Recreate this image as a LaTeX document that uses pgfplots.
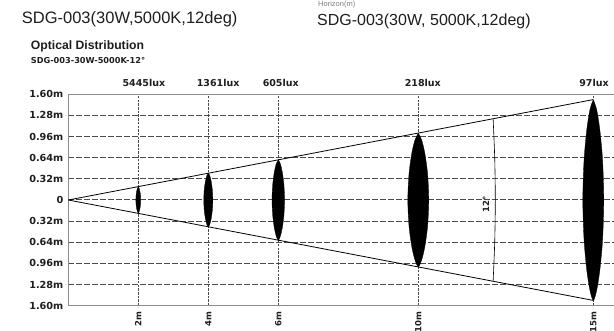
\documentclass[border=0pt]{standalone}
\usepackage{fontspec}
\usepackage{pgfplots}
\pgfplotsset{compat=1.18}
\setmainfont{Liberation Sans}
\newfontfamily\dejavu{DejaVu Sans}
\definecolor{txt}{HTML}{1E1E1E}
\definecolor{gridc}{HTML}{4A4A4A}
\definecolor{border}{HTML}{8C8C8C}
\begin{document}
\begin{tikzpicture}
\useasboundingbox (0,0) rectangle (614bp,331bp);
% header texts
\node[anchor=base west, inner sep=0pt, text=txt, font=\fontsize{16.5bp}{18bp}\selectfont] at (21.7bp,307.7bp) {SDG-003(30W,5000K,12deg)};
\node[anchor=base west, inner sep=0pt, text=txt, font=\fontsize{16bp}{18bp}\selectfont] at (317bp,305bp) {SDG-003(30W, 5000K,12deg)};
\node[anchor=base west, inner sep=0pt, text=gray, font=\fontsize{7.5bp}{9bp}\selectfont] at (318bp,324.2bp) {Horizon(m)};
\node[anchor=base west, inner sep=0pt, text=txt, font=\bfseries\fontsize{12.2bp}{14bp}\selectfont] at (30.7bp,281.7bp) {Optical Distribution};
\node[anchor=base west, inner sep=0pt, text=txt, font=\dejavu\bfseries\fontsize{8.2bp}{9bp}\selectfont] at (30.7bp,267.7bp) {SDG-003-30W-5000K-12°};
\begin{axis}[
  at={(68.3bp,25.3bp)}, anchor=south west,
  width=553bp, height=211.4bp, scale only axis,
  xmin=0, xmax=15.8, ymin=-1.6, ymax=1.6,
  clip=false,
  axis line style={draw=border, line width=1.3bp},
  major tick length=0pt,
  xtick={2,4,6,10,15},
  xticklabels={2m,4m,6m,10m,15m},
  ytick={-1.6,-1.28,-0.96,-0.64,-0.32,0,0.32,0.64,0.96,1.28,1.6},
  yticklabels={1.60m,1.28m,0.96m,0.64m,0.32m,0,0.32m,0.64m,0.96m,1.28m,1.60m},
  xticklabel style={rotate=90, anchor=east, inner sep=0pt, outer sep=0pt, text=txt, font=\dejavu\bfseries\fontsize{8.5bp}{9bp}\selectfont},
  yticklabel style={anchor=east, inner sep=0pt, outer sep=0pt, text=txt, font=\dejavu\bfseries\fontsize{9.7bp}{10bp}\selectfont},
  xticklabel shift=6bp,
  yticklabel shift=5bp,
  xmajorgrids, ymajorgrids,
  x grid style={draw=gridc, line width=0.6bp, dash pattern=on 2.5bp off 1.2bp},
  y grid style={draw=gridc, line width=1bp, dash pattern=on 6bp off 2bp},
]
% beam lines
\addplot[black, line width=0.8bp] coordinates {(0,0) (15,1.52)};
\addplot[black, line width=0.8bp] coordinates {(0,0) (15,-1.52)};
% 12 degree arc
\addplot[black, line width=0.6bp, smooth] coordinates {(12.138,1.229) (12.183,0.638) (12.2,0) (12.183,-0.638) (12.138,-1.229)};
\node[rotate=90, inner sep=0pt, text=txt, font=\dejavu\bfseries\fontsize{8.5bp}{9bp}\selectfont] at (axis cs:11.93,-0.06) {12°};
% spot ellipses
\addplot[fill=black, draw=black, line width=0.3bp, smooth] coordinates {(2,.20) (2.022,.18) (2.043,.14) (2.062,.08) (2.07,0) (2.062,-.08) (2.043,-.14) (2.022,-.18) (2,-.20) (1.978,-.18) (1.957,-.14) (1.938,-.08) (1.93,0) (1.938,.08) (1.957,.14) (1.978,.18) (2,.20)};
\addplot[fill=black, draw=black, line width=0.3bp, smooth] coordinates {(4,.41) (4.042,.369) (4.081,.287) (4.114,.164) (4.13,0) (4.114,-.164) (4.081,-.287) (4.042,-.369) (4,-.41) (3.958,-.369) (3.919,-.287) (3.886,-.164) (3.87,0) (3.886,.164) (3.919,.287) (3.958,.369) (4,.41)};
\addplot[fill=black, draw=black, line width=0.3bp, smooth] coordinates {(6,.61) (6.058,.549) (6.112,.427) (6.158,.244) (6.18,0) (6.158,-.244) (6.112,-.427) (6.058,-.549) (6,-.61) (5.942,-.549) (5.888,-.427) (5.842,-.244) (5.82,0) (5.842,.244) (5.888,.427) (5.942,.549) (6,.61)};
\addplot[fill=black, draw=black, line width=0.3bp, smooth] coordinates {(10,1.01) (10.096,.909) (10.186,.707) (10.264,.404) (10.3,0) (10.264,-.404) (10.186,-.707) (10.096,-.909) (10,-1.01) (9.904,-.909) (9.814,-.707) (9.736,-.404) (9.7,0) (9.736,.404) (9.814,.707) (9.904,.909) (10,1.01)};
\addplot[fill=black, draw=black, line width=0.3bp, smooth] coordinates {(15,1.52) (15.096,1.368) (15.186,1.064) (15.264,.608) (15.3,0) (15.264,-.608) (15.186,-1.064) (15.096,-1.368) (15,-1.52) (14.904,-1.368) (14.814,-1.064) (14.736,-.608) (14.7,0) (14.736,.608) (14.814,1.064) (14.904,1.368) (15,1.52)};
% lux labels
\node[anchor=base, inner sep=0pt, text=txt, font=\dejavu\bfseries\fontsize{9.5bp}{10bp}\selectfont] at (axis cs:2.16,1.6) [yshift=7.3bp] {5445lux};
\node[anchor=base, inner sep=0pt, text=txt, font=\dejavu\bfseries\fontsize{9.5bp}{10bp}\selectfont] at (axis cs:4.28,1.6) [yshift=7.3bp] {1361lux};
\node[anchor=base, inner sep=0pt, text=txt, font=\dejavu\bfseries\fontsize{9.5bp}{10bp}\selectfont] at (axis cs:6.07,1.6) [yshift=7.3bp] {605lux};
\node[anchor=base, inner sep=0pt, text=txt, font=\dejavu\bfseries\fontsize{9.5bp}{10bp}\selectfont] at (axis cs:10.13,1.6) [yshift=7.3bp] {218lux};
\node[anchor=base, inner sep=0pt, text=txt, font=\dejavu\bfseries\fontsize{9.5bp}{10bp}\selectfont] at (axis cs:15.02,1.6) [yshift=7.3bp] {97lux};
\end{axis}
\end{tikzpicture}
\end{document}
